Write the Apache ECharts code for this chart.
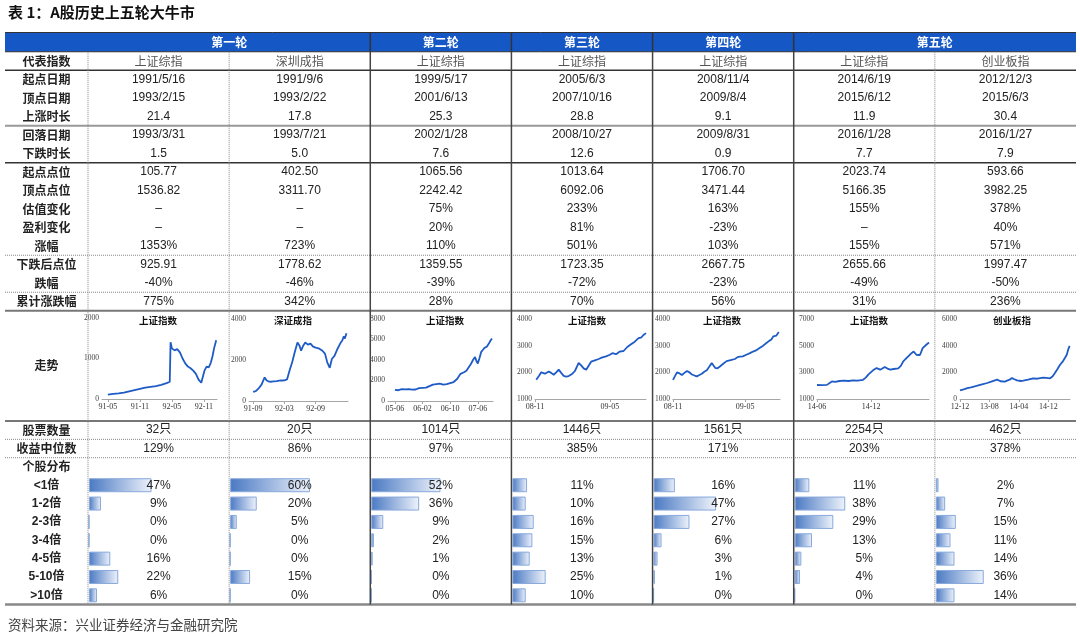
<!DOCTYPE html>
<html><head><meta charset="utf-8">
<script src="https://cdn.jsdelivr.net/npm/echarts@6/dist/echarts.min.js"></script>
<style>html,body{margin:0;padding:0;background:#fff}#c{width:1080px;height:637px}</style>
</head><body><div id="c"></div>
<script>
// ---------------- DATA ----------------
const titleText = '表 1：A股历史上五轮大牛市';
const sourceText = '资料来源：兴业证券经济与金融研究院';
const rounds = ['第一轮', '第二轮', '第三轮', '第四轮', '第五轮'];
const roundCols = [[0, 1], [2, 2], [3, 3], [4, 4], [5, 6]];
const rowLabels = ['代表指数', '起点日期', '顶点日期', '上涨时长', '回落日期', '下跌时长', '起点点位', '顶点点位', '估值变化', '盈利变化', '涨幅', '下跌后点位', '跌幅', '累计涨跌幅'];
const indexNames = ['上证综指', '深圳成指', '上证综指', '上证综指', '上证综指', '上证综指', '创业板指'];
const startDates = ['1991/5/16', '1991/9/6', '1999/5/17', '2005/6/3', '2008/11/4', '2014/6/19', '2012/12/3'];
const peakDates = ['1993/2/15', '1993/2/22', '2001/6/13', '2007/10/16', '2009/8/4', '2015/6/12', '2015/6/3'];
const riseMonths = ['21.4', '17.8', '25.3', '28.8', '9.1', '11.9', '30.4'];
const fallDates = ['1993/3/31', '1993/7/21', '2002/1/28', '2008/10/27', '2009/8/31', '2016/1/28', '2016/1/27'];
const fallMonths = ['1.5', '5.0', '7.6', '12.6', '0.9', '7.7', '7.9'];
const startLevels = ['105.77', '402.50', '1065.56', '1013.64', '1706.70', '2023.74', '593.66'];
const peakLevels = ['1536.82', '3311.70', '2242.42', '6092.06', '3471.44', '5166.35', '3982.25'];
const valuationChg = ['–', '–', '75%', '233%', '163%', '155%', '378%'];
const profitChg = ['–', '–', '20%', '81%', '-23%', '–', '40%'];
const gains = ['1353%', '723%', '110%', '501%', '103%', '155%', '571%'];
const afterFallLevels = ['925.91', '1778.62', '1359.55', '1723.35', '2667.75', '2655.66', '1997.47'];
const falls = ['-40%', '-46%', '-39%', '-72%', '-23%', '-49%', '-50%'];
const cumChg = ['775%', '342%', '28%', '70%', '56%', '31%', '236%'];
const trendLabel = '走势';
const lowerLabels = ['股票数量', '收益中位数', '个股分布'];
const stockCounts = ['32只', '20只', '1014只', '1446只', '1561只', '2254只', '462只'];
const medianReturns = ['129%', '86%', '97%', '385%', '171%', '203%', '378%'];
const distCategories = ['<1倍', '1-2倍', '2-3倍', '3-4倍', '4-5倍', '5-10倍', '>10倍'];
const distR1SH = [47, 9, 0, 0, 16, 22, 6];
const distR1SZ = [60, 20, 5, 0, 0, 15, 0];
const distR2SH = [52, 36, 9, 2, 1, 0, 0];
const distR3SH = [11, 10, 16, 15, 13, 25, 10];
const distR4SH = [16, 47, 27, 6, 3, 1, 0];
const distR5SH = [11, 38, 29, 13, 5, 4, 0];
const distR5CYB = [2, 7, 15, 11, 14, 36, 14];

// sparkline series: [months from first tick label, index level]
const trendTitles = ['上证指数', '深证成指', '上证指数', '上证指数', '上证指数', '上证指数', '创业板指'];
const trend1 = [[0,110],[1,125],[2,140],[3,160],[4,190],[5,220],[6,250],[7,280],[8,300],[9,320],[10,350],[11,390],[11.6,430],[11.75,1400],[12,1250],[12.5,1200],[13,1230],[13.5,1150],[14,1000],[14.5,880],[15,800],[15.5,760],[16,700],[16.5,620],[17,480],[17.5,400],[17.8,430],[18.1,700],[18.5,800],[18.9,780],[19.3,900],[19.6,1050],[19.9,1250],[20.3,1450]];
const trend2 = [[0,450],[0.5,480],[1,600],[1.6,800],[2.2,1150],[2.6,1000],[3,950],[3.5,940],[4,960],[4.5,970],[5,990],[5.5,1000],[6,1010],[6.5,1050],[7,1500],[7.5,1900],[8,2400],[8.5,2850],[8.9,2700],[9.2,2450],[9.6,2700],[10,2850],[10.5,2750],[11,2800],[11.5,2650],[12,2600],[12.7,2550],[13.3,2450],[13.8,2300],[14.2,1900],[14.7,1620],[15.1,2050],[15.6,2200],[16.2,2550],[16.7,2800],[17.1,2950],[17.4,3150],[17.6,3050],[17.9,3310]];
const trend3 = [[0,1080],[1,1050],[2,1150],[3,1130],[4,1160],[5,1100],[6,1120],[7,1250],[8,1290],[9,1300],[10,1450],[11,1600],[12,1650],[13,1700],[14,1600],[15,1650],[16,1750],[17,1850],[18,2150],[19,2650],[20,2800],[20.7,2950],[21.2,3000],[22,3600],[22.6,4000],[23.2,4300],[23.6,3900],[24,3650],[24.5,4200],[25,4800],[25.5,5000],[26,5200],[26.6,5300],[27.2,5600],[27.7,5900],[28.1,6100]];
const trend4 = [[0.1,1720],[0.3,1850],[0.5,2000],[0.8,1950],[1.1,2030],[1.3,1980],[1.5,1910],[1.7,2000],[1.9,2100],[2.1,1980],[2.3,1870],[2.5,1840],[2.7,1860],[3,1950],[3.2,2050],[3.4,2250],[3.5,2350],[3.7,2260],[3.9,2150],[4.1,2100],[4.3,2250],[4.5,2400],[4.8,2450],[5.1,2500],[5.4,2560],[5.7,2600],[6,2660],[6.2,2720],[6.5,2680],[6.8,2780],[7.1,2800],[7.4,2950],[7.7,3050],[8,3150],[8.3,3280],[8.5,3300],[8.7,3400],[8.9,3470]];
const trend5 = [[0,1720],[0.33,2000],[0.55,1960],[0.74,1900],[0.95,1980],[1.16,2050],[1.4,1990],[1.57,1920],[1.8,1880],[1.98,1850],[2.2,1900],[2.4,1950],[2.6,2020],[2.81,2080],[3.0,2200],[3.22,2350],[3.35,2280],[3.5,2170],[3.7,2150],[3.9,2220],[4.2,2330],[4.46,2420],[4.8,2460],[5.15,2500],[5.4,2580],[5.56,2620],[5.8,2600],[6.1,2660],[6.4,2720],[6.66,2780],[6.9,2820],[7.2,2910],[7.5,3000],[7.77,3100],[8.0,3180],[8.18,3230],[8.35,3350],[8.45,3420],[8.6,3380],[8.8,3510]];
const trend6 = [[0,2050],[0.5,2040],[1.1,2060],[1.4,2200],[1.65,2320],[2,2280],[2.5,2350],[3,2380],[3.5,2350],[4,2400],[4.5,2380],[5.1,2440],[5.4,2600],[5.7,2850],[5.9,3000],[6.2,3150],[6.6,3320],[7,3200],[7.5,3400],[7.8,3280],[8.1,3200],[8.5,3250],[9,3300],[9.3,3500],[9.55,3820],[9.8,4000],[10.1,4190],[10.4,4400],[10.7,4560],[11,4320],[11.2,4250],[11.4,4300],[11.7,4820],[12.1,5070],[12.4,5240]];
const trend7 = [[0,640],[1,720],[2,820],[3,880],[4,950],[4.7,1000],[6,1100],[7.4,1200],[8.5,1300],[9.3,1380],[10.1,1450],[11,1330],[11.4,1370],[12.2,1300],[12.8,1380],[13.5,1450],[14.1,1570],[14.8,1480],[15.5,1400],[16.5,1350],[17.2,1380],[18.5,1450],[19.9,1550],[21,1520],[22.6,1600],[23.5,1580],[24.5,1550],[25.2,1700],[25.8,1950],[26.5,2250],[27.2,2570],[27.9,2800],[28.5,3070],[29,3300],[29.4,3700],[29.8,3980]];
const trendTickVals = [[0,6,12,18],[0,6,12],[0,8,16,24],[0,6],[0,6],[0,6],[0,8,16,24]];
const trendTickLabels = [['91-05','91-11','92-05','92-11'],['91-09','92-03','92-09'],['05-06','06-02','06-10','07-06'],['08-11','09-05'],['08-11','09-05'],['14-06','14-12'],['12-12','13-08','14-04','14-12']];
const trendXRange = [[-1.1,20.45],[-0.8,18.2],[-2.0,28.4],[0,8.9],[0,8.9],[0,12.4],[0,29.9]];
const trendYRange = [[0,2000,1000],[0,4000,2000],[0,8000,2000],[1000,4000,1000],[1000,4000,1000],[1000,7000,2000],[0,6000,2000]];

// ---------------- LAYOUT ----------------
const X0 = 5, XL = 88, XR = 1076, CW = (XR - XL) / 7;
const colLeft = i => XL + i * CW;
const colCenter = i => XL + (i + 0.5) * CW;
const HEAD_TOP = 32.5, ROW_TOP = 51.75, RH = 18.5;
const rowCenter = k => ROW_TOP + (k + 0.5) * RH;
const CHART_TOP = ROW_TOP + 14 * RH, CHART_BOT = 421;
const LRH = 18.35;
const lowCenter = k => CHART_BOT + (k + 0.5) * LRH;
const BOTTOM = CHART_BOT + 10 * LRH;
const trendGrids = [
  {left:102, width:115, top:318, height:81},
  {left:249, width:99, top:319, height:82},
  {left:388, width:105, top:319, height:82},
  {left:535, width:111, top:319, height:80},
  {left:673, width:107, top:319, height:80},
  {left:817, width:112, top:319, height:80},
  {left:960, width:110, top:319, height:80}
];
const trendTitleX = [158, 293, 445, 587, 722, 869, 1012];

const FONT_CN = '"Noto Sans CJK SC"';
const FONT_NUM = '"Liberation Sans","Noto Sans CJK SC"';
const g = [];
function txt(x, y, s, font, fill, align) {
  const a = align || 'center';
  g.push({type:'text', z:100, silent:true, style:{text:s, x:x, y:y, font:font, fill:fill, textFill:fill, align:a, textAlign:a, verticalAlign:'middle', textVerticalAlign:'middle'}});
}
function hl(y, stroke, w, dash) {
  g.push({type:'line', z:90, silent:true, shape:{x1:X0, y1:y, x2:XR, y2:y}, style:{stroke:stroke, lineWidth:w, lineDash:dash || null}});
}
function vl(x, y1, y2, stroke, w, dash) {
  g.push({type:'line', z:90, silent:true, shape:{x1:x, y1:y1, x2:x, y2:y2}, style:{stroke:stroke, lineWidth:w, lineDash:dash || null}});
}

// title & source
txt(8, 12, titleText, 'bold 15px ' + FONT_CN, '#111', 'left');
txt(8, 625, sourceText, '13.5px ' + FONT_CN, '#444', 'left');

// header band
g.push({type:'rect', z:80, silent:true, shape:{x:X0, y:HEAD_TOP, width:XR - X0, height:ROW_TOP - HEAD_TOP}, style:{fill:'#1557c4'}});
rounds.forEach((r, i) => {
  const [a, b] = roundCols[i];
  txt((colLeft(a) + colLeft(b + 1)) / 2, (HEAD_TOP + ROW_TOP) / 2, r, 'bold 12px ' + FONT_CN, '#fff');
});
[2, 3, 4, 5].forEach(i => vl(colLeft(i), HEAD_TOP, ROW_TOP, '#333', 1.5));

// table rows
const LABEL_FONT = '600 12px ' + FONT_CN;
const rowsData = [indexNames, startDates, peakDates, riseMonths, fallDates, fallMonths, startLevels, peakLevels, valuationChg, profitChg, gains, afterFallLevels, falls, cumChg];
rowLabels.forEach((lab, k) => {
  txt((X0 + XL) / 2, rowCenter(k), lab, LABEL_FONT, '#222');
  rowsData[k].forEach((v, i) => {
    txt(colCenter(i), rowCenter(k), v, k === 0 ? ('12px ' + FONT_CN) : ('12px ' + FONT_NUM), k === 0 ? '#555' : '#222');
  });
});
txt((X0 + XL) / 2, (CHART_TOP + CHART_BOT) / 2, trendLabel, LABEL_FONT, '#222');
lowerLabels.forEach((lab, k) => txt((X0 + XL) / 2, lowCenter(k), lab, LABEL_FONT, '#222'));
stockCounts.forEach((v, i) => txt(colCenter(i), lowCenter(0), v, '12px ' + FONT_NUM, '#222'));
medianReturns.forEach((v, i) => txt(colCenter(i), lowCenter(1), v, '12px ' + FONT_NUM, '#222'));
const distCols = [distR1SH, distR1SZ, distR2SH, distR3SH, distR4SH, distR5SH, distR5CYB];
distCategories.forEach((c, k) => {
  txt((X0 + XL) / 2, lowCenter(k + 3), c, 'bold 12px ' + FONT_NUM, '#222');
  distCols.forEach((arr, i) => txt(colCenter(i), lowCenter(k + 3), arr[k] + '%', '12px ' + FONT_NUM, '#222'));
});
trendTitles.forEach((t, i) => txt(trendTitleX[i], 320, t, 'bold 9.5px ' + FONT_CN, '#111'));

// rules
hl(HEAD_TOP, '#333', 1);
hl(ROW_TOP, '#333', 1);
hl(ROW_TOP + RH, '#333', 1.5);
hl(ROW_TOP + 4 * RH, '#999', 2);
hl(ROW_TOP + 6 * RH, '#333', 1.5);
hl(ROW_TOP + 11 * RH, '#888', 1, [1, 1]);
hl(ROW_TOP + 13 * RH, '#888', 1, [1, 1]);
hl(CHART_TOP, '#777', 2);
hl(CHART_BOT, '#777', 2);
hl(CHART_BOT + LRH, '#888', 1, [1, 1]);
hl(CHART_BOT + 2 * LRH, '#888', 1, [1, 1]);
hl(BOTTOM, '#888', 2.5);
vl(XL, ROW_TOP, BOTTOM, '#888', 1, [1, 1]);
vl(colLeft(1), ROW_TOP, BOTTOM, '#888', 1, [1, 1]);
vl(colLeft(6), ROW_TOP, BOTTOM, '#888', 1, [1, 1]);
[2, 3, 4, 5].forEach(i => vl(colLeft(i), ROW_TOP, BOTTOM, '#444', 1.5));

// ---------------- CHART OPTION ----------------
const grids = [], xAxes = [], yAxes = [], series = [];
const trends = [trend1, trend2, trend3, trend4, trend5, trend6, trend7];
trends.forEach((d, i) => {
  grids.push(Object.assign({}, trendGrids[i]));
  const tv = trendTickVals[i], tl = trendTickLabels[i];
  xAxes.push({gridIndex:i, type:'value', min:trendXRange[i][0], max:trendXRange[i][1],
    axisLine:{show:true, onZero:false, lineStyle:{color:'#a6a6a6', width:1}},
    axisTick:{show:true, customValues:tv, length:3, lineStyle:{color:'#a6a6a6'}},
    axisLabel:{customValues:tv, formatter:v => { const j = tv.indexOf(v); return j >= 0 ? tl[j] : ''; }, fontSize:8, fontFamily:'Liberation Serif', color:'#333', margin:4},
    splitLine:{show:false}});
  yAxes.push({gridIndex:i, type:'value', min:trendYRange[i][0], max:trendYRange[i][1], interval:trendYRange[i][2],
    axisLine:{show:false}, axisTick:{show:false}, splitLine:{show:false},
    axisLabel:{fontSize:7.5, fontFamily:'Liberation Serif', color:'#444', margin:3, formatter:v => String(v)}});
  series.push({type:'line', xAxisIndex:i, yAxisIndex:i, data:d, showSymbol:false, symbol:'none',
    lineStyle:{color:'#1f5bc6', width:1.8}, z:3});
});
const barFill = new echarts.graphic.LinearGradient(0, 0, 1, 0, [{offset:0, color:'#4a79c3'}, {offset:1, color:'#eef3fb'}]);
distCols.forEach((arr, i) => {
  const gi = 7 + i;
  grids.push({left:colLeft(i) + 1, width:133, top:CHART_BOT + 3 * LRH, height:7 * LRH});
  xAxes.push({gridIndex:gi, type:'value', min:0, max:100, show:false});
  yAxes.push({gridIndex:gi, type:'category', data:distCategories, inverse:true, show:false});
  series.push({type:'bar', xAxisIndex:gi, yAxisIndex:gi, data:arr, barWidth:14,
    itemStyle:{color:barFill, borderColor:'#88a9dc', borderWidth:1}, z:2});
});

const chart = echarts.init(document.getElementById('c'), null, {renderer:'canvas', width:1080, height:637});
chart.setOption({
  animation:false,
  backgroundColor:'#fff',
  grid:grids, xAxis:xAxes, yAxis:yAxes, series:series,
  graphic:{elements:g}
});
</script></body></html>
